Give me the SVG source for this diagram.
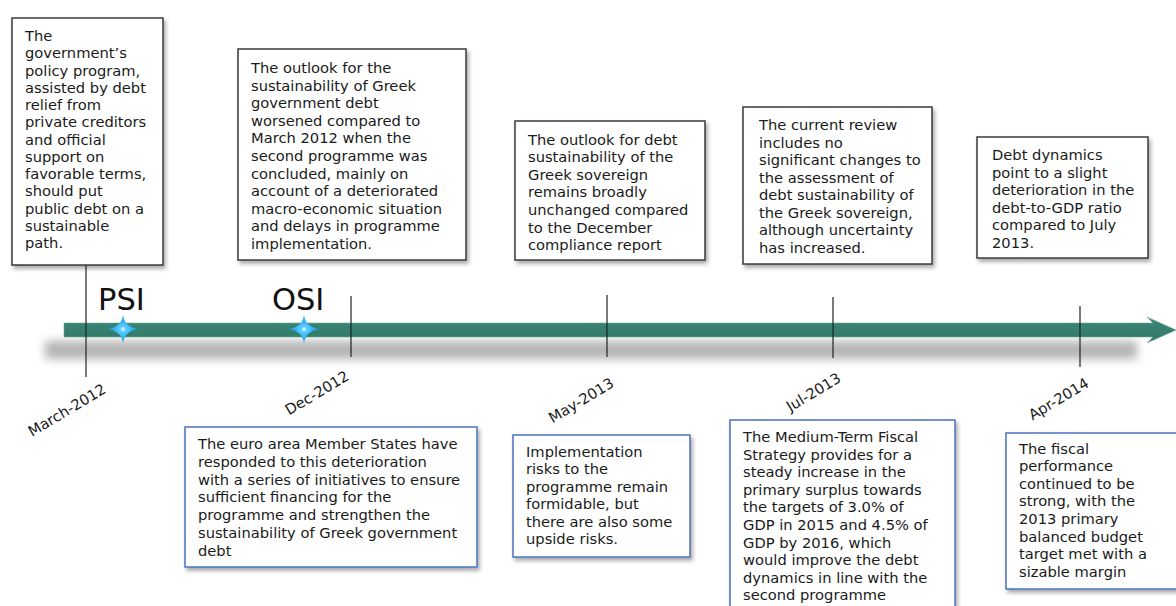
<svg xmlns="http://www.w3.org/2000/svg" width="1176" height="606" viewBox="0 0 1176 606">
<defs>
<style>
.t{font-family:"DejaVu Sans","Liberation Sans",sans-serif;font-size:14.7px;fill:#1a1a1a}
.top{fill:#fff;stroke:#3a3a3a;stroke-width:1.5}
.bot{fill:#fff;stroke:#4a72c0;stroke-width:1.5}
.tick{stroke:#222;stroke-width:1.2}
.date{font-family:"DejaVu Sans","Liberation Sans",sans-serif;font-size:14.7px;fill:#1a1a1a;text-anchor:end}
.big{font-family:"DejaVu Sans","Liberation Sans",sans-serif;font-size:30.5px;fill:#111}
</style>
<filter id="sh" x="-10%" y="-10%" width="125%" height="125%">
<feGaussianBlur in="SourceAlpha" stdDeviation="2"/>
<feOffset dx="2" dy="3" result="o"/>
<feComponentTransfer><feFuncA type="linear" slope="0.35"/></feComponentTransfer>
<feMerge><feMergeNode/><feMergeNode in="SourceGraphic"/></feMerge>
</filter>
<filter id="blur" x="-5%" y="-150%" width="110%" height="400%">
<feGaussianBlur stdDeviation="5"/>
</filter>
<linearGradient id="shaft" x1="0" y1="0" x2="0" y2="1">
<stop offset="0" stop-color="#8fc4b6"/>
<stop offset="0.14" stop-color="#3b8474"/>
<stop offset="0.86" stop-color="#327a6a"/>
<stop offset="1" stop-color="#86bcae"/>
</linearGradient>
<radialGradient id="star" cx="0.5" cy="0.5" r="0.5">
<stop offset="0" stop-color="#e8fbff"/>
<stop offset="0.2" stop-color="#5cccff"/>
<stop offset="1" stop-color="#0096e6"/>
</radialGradient>
</defs>
<rect width="1176" height="606" fill="#fff"/>

<g id="timeline">
<rect x="45" y="341" width="1092" height="18" fill="#b4b4b4" filter="url(#blur)"/>
<path d="M64,323 L1153,323 L1147,317 L1176,330 L1147,343 L1153,337 L64,337 Z" fill="url(#shaft)" stroke="#6aa999" stroke-width="0.6"/>
</g>

<g id="connectors">
<line class="tick" x1="86" y1="265" x2="86" y2="377"/>
<line class="tick" x1="351" y1="296" x2="351" y2="357"/>
<line class="tick" x1="607" y1="295" x2="607" y2="357"/>
<line class="tick" x1="833" y1="297" x2="833" y2="358"/>
<line class="tick" x1="1080" y1="306" x2="1080" y2="367"/>
</g>

<g id="markers">
<text class="big" x="98" y="310">PSI</text>
<path d="M123,315 Q124.5,327 138.5,329 Q124.5,331 123,343.5 Q121.5,331 107.5,329 Q121.5,327 123,315 Z" fill="url(#star)"/>
<text class="big" x="272" y="310">OSI</text>
<path d="M304,315 Q305.5,327 319.5,329 Q305.5,331 304,343.5 Q302.5,331 288.5,329 Q302.5,327 304,315 Z" fill="url(#star)"/>
</g>

<g id="dates">
<text class="date" transform="rotate(-31 107 392)" x="107" y="392">March-2012</text>
<text class="date" transform="rotate(-31 350 379)" x="350" y="379">Dec-2012</text>
<text class="date" transform="rotate(-31 615 386)" x="615" y="386">May-2013</text>
<text class="date" transform="rotate(-31 842 381)" x="842" y="381">Jul-2013</text>
<text class="date" transform="rotate(-31 1090 386)" x="1090" y="386">Apr-2014</text>
</g>

<g id="box-mar2012">
<rect class="top" x="12" y="18" width="151" height="247" filter="url(#sh)"/>
<text class="t" y="41">
<tspan x="25">The</tspan>
<tspan x="25" dy="17.25">government’s</tspan>
<tspan x="25" dy="17.25">policy program,</tspan>
<tspan x="25" dy="17.25">assisted by debt</tspan>
<tspan x="25" dy="17.25">relief from</tspan>
<tspan x="25" dy="17.25">private creditors</tspan>
<tspan x="25" dy="17.25">and official</tspan>
<tspan x="25" dy="17.25">support on</tspan>
<tspan x="25" dy="17.25">favorable terms,</tspan>
<tspan x="25" dy="17.25">should put</tspan>
<tspan x="25" dy="17.25">public debt on a</tspan>
<tspan x="25" dy="17.25">sustainable</tspan>
<tspan x="25" dy="17.25">path.</tspan>
</text>
</g>

<g id="box-dec2012-top">
<rect class="top" x="238" y="49" width="228" height="211" filter="url(#sh)"/>
<text class="t" y="73">
<tspan x="251">The outlook for the</tspan>
<tspan x="251" dy="17.6">sustainability of Greek</tspan>
<tspan x="251" dy="17.6">government debt</tspan>
<tspan x="251" dy="17.6">worsened compared to</tspan>
<tspan x="251" dy="17.6">March 2012 when the</tspan>
<tspan x="251" dy="17.6">second programme was</tspan>
<tspan x="251" dy="17.6">concluded, mainly on</tspan>
<tspan x="251" dy="17.6">account of a deteriorated</tspan>
<tspan x="251" dy="17.6">macro-economic situation</tspan>
<tspan x="251" dy="17.6">and delays in programme</tspan>
<tspan x="251" dy="17.6">implementation.</tspan>
</text>
</g>

<g id="box-may2013-top">
<rect class="top" x="515" y="121" width="190" height="139" filter="url(#sh)"/>
<text class="t" y="144.5">
<tspan x="528">The outlook for debt</tspan>
<tspan x="528" dy="17.6">sustainability of the</tspan>
<tspan x="528" dy="17.6">Greek sovereign</tspan>
<tspan x="528" dy="17.6">remains broadly</tspan>
<tspan x="528" dy="17.6">unchanged compared</tspan>
<tspan x="528" dy="17.6">to the December</tspan>
<tspan x="528" dy="17.6">compliance report</tspan>
</text>
</g>

<g id="box-jul2013-top">
<rect class="top" x="743" y="107" width="189" height="157" filter="url(#sh)"/>
<text class="t" y="130.3">
<tspan x="759">The current review</tspan>
<tspan x="759" dy="17.5">includes no</tspan>
<tspan x="759" dy="17.5">significant changes to</tspan>
<tspan x="759" dy="17.5">the assessment of</tspan>
<tspan x="759" dy="17.5">debt sustainability of</tspan>
<tspan x="759" dy="17.5">the Greek sovereign,</tspan>
<tspan x="759" dy="17.5">although uncertainty</tspan>
<tspan x="759" dy="17.5">has increased.</tspan>
</text>
</g>

<g id="box-apr2014-top">
<rect class="top" x="977" y="137" width="171" height="121" filter="url(#sh)"/>
<text class="t" y="160.3">
<tspan x="992">Debt dynamics</tspan>
<tspan x="992" dy="17.5">point to a slight</tspan>
<tspan x="992" dy="17.5">deterioration in the</tspan>
<tspan x="992" dy="17.5">debt-to-GDP ratio</tspan>
<tspan x="992" dy="17.5">compared to July</tspan>
<tspan x="992" dy="17.5">2013.</tspan>
</text>
</g>

<g id="box-dec2012-bottom">
<rect class="bot" x="185" y="427" width="292" height="140" filter="url(#sh)"/>
<text class="t" y="449">
<tspan x="198">The euro area Member States have</tspan>
<tspan x="198" dy="17.8">responded to this deterioration</tspan>
<tspan x="198" dy="17.8">with a series of initiatives to ensure</tspan>
<tspan x="198" dy="17.8">sufficient financing for the</tspan>
<tspan x="198" dy="17.8">programme and strengthen the</tspan>
<tspan x="198" dy="17.8">sustainability of Greek government</tspan>
<tspan x="198" dy="17.8">debt</tspan>
</text>
</g>

<g id="box-may2013-bottom">
<rect class="bot" x="513" y="435" width="177" height="122" filter="url(#sh)"/>
<text class="t" y="456.5">
<tspan x="526">Implementation</tspan>
<tspan x="526" dy="17.5">risks to the</tspan>
<tspan x="526" dy="17.5">programme remain</tspan>
<tspan x="526" dy="17.5">formidable, but</tspan>
<tspan x="526" dy="17.5">there are also some</tspan>
<tspan x="526" dy="17.5">upside risks.</tspan>
</text>
</g>

<g id="box-jul2013-bottom">
<rect class="bot" x="730" y="420" width="225" height="200" filter="url(#sh)"/>
<text class="t" y="442">
<tspan x="743">The Medium-Term Fiscal</tspan>
<tspan x="743" dy="17.6">Strategy provides for a</tspan>
<tspan x="743" dy="17.6">steady increase in the</tspan>
<tspan x="743" dy="17.6">primary surplus towards</tspan>
<tspan x="743" dy="17.6">the targets of 3.0% of</tspan>
<tspan x="743" dy="17.6">GDP in 2015 and 4.5% of</tspan>
<tspan x="743" dy="17.6">GDP by 2016, which</tspan>
<tspan x="743" dy="17.6">would improve the debt</tspan>
<tspan x="743" dy="17.6">dynamics in line with the</tspan>
<tspan x="743" dy="17.6">second programme</tspan>
</text>
</g>

<g id="box-apr2014-bottom">
<rect class="bot" x="1006" y="433" width="190" height="156" filter="url(#sh)"/>
<text class="t" y="453.5">
<tspan x="1019">The fiscal</tspan>
<tspan x="1019" dy="17.6">performance</tspan>
<tspan x="1019" dy="17.6">continued to be</tspan>
<tspan x="1019" dy="17.6">strong, with the</tspan>
<tspan x="1019" dy="17.6">2013 primary</tspan>
<tspan x="1019" dy="17.6">balanced budget</tspan>
<tspan x="1019" dy="17.6">target met with a</tspan>
<tspan x="1019" dy="17.6">sizable margin</tspan>
</text>
</g>
</svg>
